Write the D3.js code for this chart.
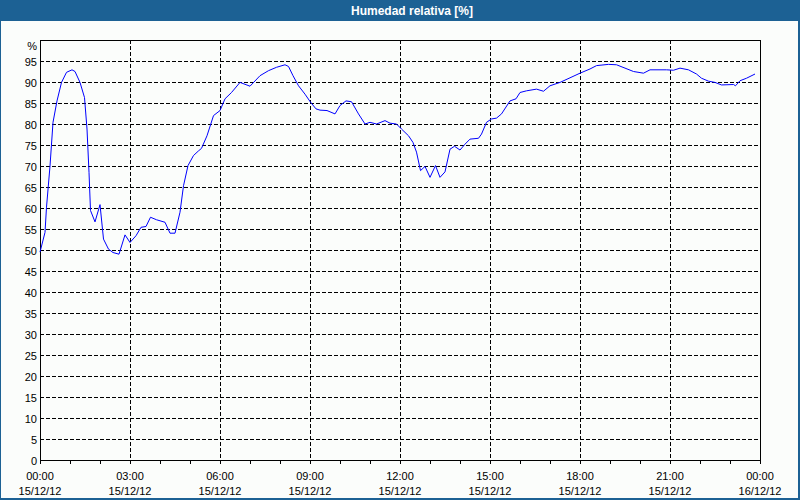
<!DOCTYPE html>
<html>
<head>
<meta charset="utf-8">
<script src="https://cdn.jsdelivr.net/npm/d3@7"></script>
<style>
  html, body { margin: 0; padding: 0; background: #ffffff; }
  svg { display: block; }
  text { font-family: "Liberation Sans", Arial, sans-serif; }
</style>
</head>
<body>
<svg id="chart" width="800" height="500"></svg>
<script>
// ---- Data ----
const title = "Humedad relativa [%]";
const unitLabel = "%";
const day = "2012-12-15";
const times = [
  "00:00","00:10","00:13","00:20","00:26","00:34","00:43","00:53","01:04","01:10",
  "01:20","01:29","01:34","01:38","01:41","01:50","02:00","02:07","02:17","02:26",
  "02:38","02:50","03:00","03:12","03:22","03:32","03:41","03:53","04:10","04:20",
  "04:30","04:40","04:47","04:56","05:07","05:17","05:23","05:34","05:47","06:00",
  "06:10","06:23","06:40","07:00","07:20","07:37","07:53","08:10","08:17","08:26",
  "08:37","08:50","09:01","09:12","09:20","09:34","09:50","10:00","10:12","10:23",
  "10:37","10:50","11:00","11:13","11:30","11:40","11:53","12:03","12:17","12:26",
  "12:33","12:41","12:50","13:00","13:11","13:20","13:30","13:40","13:49","14:00",
  "14:10","14:20","14:37","14:43","14:53","15:03","15:13","15:23","15:40","15:52",
  "16:00","16:13","16:33","16:47","17:00","17:20","17:40","18:00","18:20","18:33",
  "18:57","19:13","19:30","19:47","20:07","20:20","20:53","21:07","21:20","21:37",
  "21:53","22:03","22:17","22:30","22:43","23:07","23:11","23:20","23:33","23:50"
];
const humidity = [
  49.5,54.2,60.2,70.0,80.4,85.5,89.9,92.3,92.9,92.5,
  89.9,86.3,78.8,68.5,59.4,56.7,60.8,52.6,50.2,49.4,
  49.0,53.6,51.8,53.4,55.4,55.6,57.8,57.2,56.6,54.0,
  54.0,59.0,65.3,70.1,72.5,73.6,74.2,77.2,82.0,83.2,
  86.0,87.5,89.9,89.0,91.5,92.7,93.5,94.1,93.7,91.5,
  89.1,87.1,85.2,83.6,83.3,83.2,82.4,84.4,85.5,85.3,
  82.4,80.0,80.4,80.0,80.8,80.2,80.0,78.8,77.2,75.6,
  73.3,68.9,69.9,67.3,70.1,67.3,68.6,74.0,74.7,73.8,
  75.2,76.4,76.6,77.6,80.4,81.2,81.4,82.4,85.5,86.0,
  87.5,87.9,88.3,87.8,89.1,89.9,91.0,92.1,93.1,93.9,
  94.2,94.1,93.3,92.5,92.1,92.9,92.9,92.8,93.3,92.9,
  91.9,90.9,90.2,89.9,89.3,89.4,89.1,90.3,90.9,91.9
];
const yTicks = [0,5,10,15,20,25,30,35,40,45,50,55,60,65,70,75,80,85,90,95];
const xTickLabels = [
  ["00:00","15/12/12"],["03:00","15/12/12"],["06:00","15/12/12"],["09:00","15/12/12"],
  ["12:00","15/12/12"],["15:00","15/12/12"],["18:00","15/12/12"],["21:00","15/12/12"],
  ["00:00","16/12/12"]
];

// ---- Drawing ----
const W = 800, H = 500;
const titleBlue = "#1c6194";
const bg = "#fbfdfb";
const plot = { left: 40, right: 760, top: 40, bottom: 460 };

const parse = d3.timeParse("%Y-%m-%d %H:%M");
const t0 = parse(day + " 00:00");
const t1 = d3.timeDay.offset(t0, 1);
const data = times.map((t, i) => ({ t: parse(day + " " + t), v: humidity[i] }));

const x = d3.scaleTime().domain([t0, t1]).range([plot.left, plot.right]);
const y = d3.scaleLinear().domain([0, 100]).range([plot.bottom, plot.top]);
const px = v => Math.round(v) + 0.5;

const svg = d3.select("#chart");

// outer frame + title bar
svg.append("rect").attr("x", 0).attr("y", 0).attr("width", W).attr("height", H).attr("fill", titleBlue);
svg.append("rect").attr("x", 1).attr("y", 21).attr("width", W - 3).attr("height", H - 23).attr("fill", bg);
svg.append("text")
  .attr("x", 412).attr("y", 15)
  .attr("text-anchor", "middle")
  .attr("fill", "#ffffff")
  .attr("font-weight", "bold")
  .attr("font-size", 12)
  .text(title);

// gridlines
const g = svg.append("g").attr("shape-rendering", "crispEdges");
const hours = d3.timeHour.range(t0, t1);
const majors = d3.timeHour.every(3).range(t0, d3.timeHour.offset(t1, 1));

g.selectAll("line.hgrid")
  .data(yTicks.filter(v => v > 0))
  .join("line")
  .attr("class", "hgrid")
  .attr("x1", plot.left).attr("x2", plot.right)
  .attr("y1", d => px(y(d))).attr("y2", d => px(y(d)))
  .attr("stroke", "#000").attr("stroke-width", 1)
  .attr("stroke-dasharray", "4,2");

g.selectAll("line.vgrid")
  .data(majors.filter(d => d > t0 && d < t1))
  .join("line")
  .attr("class", "vgrid")
  .attr("x1", d => px(x(d))).attr("x2", d => px(x(d)))
  .attr("y1", plot.top).attr("y2", plot.bottom)
  .attr("stroke", "#000").attr("stroke-width", 1)
  .attr("stroke-dasharray", "4,2");

// plot frame
g.append("rect")
  .attr("x", plot.left + 0.5).attr("y", plot.top + 0.5)
  .attr("width", plot.right - plot.left).attr("height", plot.bottom - plot.top)
  .attr("fill", "none").attr("stroke", "#000").attr("stroke-width", 1);

// hourly ticks under x axis
g.selectAll("line.xtick")
  .data(hours.concat([t1]))
  .join("line")
  .attr("class", "xtick")
  .attr("x1", d => px(x(d))).attr("x2", d => px(x(d)))
  .attr("y1", plot.bottom).attr("y2", plot.bottom + 4)
  .attr("stroke", "#000");

// y labels
svg.selectAll("text.ylab")
  .data(yTicks)
  .join("text")
  .attr("class", "ylab")
  .attr("x", 37)
  .attr("y", d => y(d) + 1)
  .attr("dominant-baseline", "central")
  .attr("text-anchor", "end")
  .attr("font-size", 11)
  .attr("fill", "#000")
  .text(d => d);
svg.append("text")
  .attr("x", 37).attr("y", y(100) + 6)
  .attr("dominant-baseline", "central")
  .attr("text-anchor", "end")
  .attr("font-size", 11)
  .attr("fill", "#000")
  .text(unitLabel);

// x labels
const xl = svg.selectAll("g.xlab")
  .data(majors.filter(d => d <= t1).map((d, i) => ({ d, lab: xTickLabels[i] })))
  .join("g")
  .attr("class", "xlab")
  .attr("transform", o => `translate(${x(o.d)},0)`);
xl.append("text").attr("y", 480).attr("text-anchor", "middle").attr("font-size", 11).text(o => o.lab[0]);
xl.append("text").attr("y", 495).attr("text-anchor", "middle").attr("font-size", 11).text(o => o.lab[1]);

// line
const line = d3.line().x(d => x(d.t)).y(d => y(d.v));
svg.append("path")
  .datum(data)
  .attr("d", line)
  .attr("fill", "none")
  .attr("stroke", "#0000ff")
  .attr("stroke-width", 1);
</script>
</body>
</html>
